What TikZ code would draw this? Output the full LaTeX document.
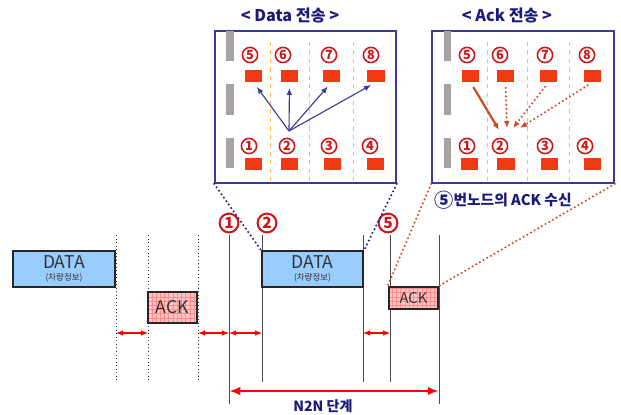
\documentclass[tikz,border=0pt]{standalone}
\usepackage{fontspec}
\setmainfont{Noto Sans CJK KR}
\usetikzlibrary{arrows.meta, patterns, positioning}
\definecolor{navy}{HTML}{1C1C78}
\definecolor{panelblue}{HTML}{3A3A9C}
\definecolor{arrowblue}{HTML}{3C3C9A}
\definecolor{numred}{HTML}{D01414}
\definecolor{rectred}{HTML}{F23A12}
\definecolor{barg}{HTML}{A9A2A2}
\definecolor{dashy}{HTML}{FFBE48}
\definecolor{datablue}{HTML}{99CCFF}
\definecolor{ackpink}{HTML}{FFC4C4}
\definecolor{ackred}{HTML}{D0461A}

\begin{document}
\begin{tikzpicture}[x=0.025cm, y=-0.025cm, >={Latex[length=5pt,width=4pt]},
	num/.style={circle, draw=numred, line width=1.1pt, text=numred, minimum size=0.38cm, inner sep=0pt,
		font=\bfseries\fontsize{9}{9}\selectfont},
	tnum/.style={num, line width=1.4pt, minimum size=0.47cm, font=\bfseries\fontsize{11}{11}\selectfont},
	sta/.style={fill=rectred, minimum width=0.425cm, minimum height=0.3cm, inner sep=0pt},
	bar/.style={fill=barg, minimum width=0.175cm, minimum height=0.75cm, inner sep=0pt},
	panel/.style={draw=panelblue, line width=1.2pt, minimum height=3.8cm, inner sep=0pt},
	lane/.style={dashed, dashy, line width=0.7pt},
	pkt/.style={draw=black!85, line width=1.8pt, inner sep=0pt, text=black!80, align=center},
	tick/.style={black!70, line width=0.6pt},
	gap/.style={<->, red, line width=0.8pt},
	dots/.style={dash pattern=on 0pt off 3pt, line cap=round, line width=1.6pt}]
	\useasboundingbox (0,0) rectangle (621,415);
	%%% Pannello Data
	\node[panel, minimum width=4.525cm] (dpanel) at (305.5,107) {};
	\node[text=navy, font=\bfseries\fontsize{11.5}{12}\selectfont] (dtitle) at (290,15) {< Data 전송 >};
	\foreach \y/\i in {46/1, 99.5/2, 153/3}
	\node[bar] (db\i) at (230,\y) {};
	\foreach \x in {270, 309, 353}
	\draw[lane] (\x,42) -- (\x,182);
	\foreach \n/\x/\r in {5/250/253.5, 6/283/289.5, 7/329/331.5, 8/371/376, 1/249/253.5, 2/287/289.5, 3/329/332.5, 4/370/375.5}
	{
		\pgfmathsetmacro{\ny}{\n>4 ? 55 : 146}
		\pgfmathsetmacro{\ry}{\n>4 ? 76 : 163.5}
		\node[num] (dn\n) at (\x,\ny) {\n};
		\node[sta] (d\n) at (\r,\ry) {};
	}
	\coordinate (dsrc) at (289,131);
	\foreach \n in {5,...,8}
	\draw[->, arrowblue, line width=0.8pt, shorten >=4pt] (dsrc) -- (d\n.south);
	
	%%% Pannello Ack
	\node[panel, minimum width=4.55cm] (apanel) at (523,107) {};
	\node[text=navy, font=\bfseries\fontsize{11.5}{12}\selectfont] (atitle) at (507,15) {< Ack 전송 >};
	\foreach \y/\i in {46/1, 99.5/2, 153/3}
	\node[bar] (ab\i) at (447,\y) {};
	\foreach \x in {487, 527, 569}
	\draw[lane] (\x,42) -- (\x,182);
	\foreach \n/\x/\r in {5/467/470.5, 6/500/505.5, 7/545/548.5, 8/587/592.5, 1/467/469.5, 2/500/506, 3/545/549.5, 4/585/592.5}
	{
		\pgfmathsetmacro{\ny}{\n>4 ? 55 : 146}
		\pgfmathsetmacro{\ry}{\n>4 ? 76 : 163.5}
		\node[num] (an\n) at (\x,\ny) {\n};
		\node[sta] (a\n) at (\r,\ry) {};
	}
	\coordinate (k5) at (499,130);
	\coordinate (k6) at (507,128);
	\coordinate (k7) at (513,128);
	\coordinate (k8) at (520,128);
	\draw[->, ackred, line width=1.5pt, shorten <=4pt] (a5.south) -- (k5);
	\foreach \n in {6,7,8}
	\draw[->, ackred, dots, shorten <=4pt] (a\n.south) -- (k\n);
	\node[text=navy, font=\bfseries\fontsize{10.5}{11}\selectfont] (recv) at (503,200)
	{\raisebox{-0.12em}{\scalebox{1.3}{⑤}}번노드의 ACK 수신};
	
	%%% Linea temporale
	\foreach \x in {116, 148, 198}
	\draw[black!80, dotted, line width=0.5pt] (\x,235) -- (\x,382);
	\foreach \x in {262, 363, 390}
	\draw[tick] (\x,235) -- (\x,382);
	\foreach \x in {229, 439}
	\draw[tick] (\x,235) -- (\x,404);
	\node[tnum] (t1) at (229,223) {1};
	\node[tnum] (t2) at (267,223) {2};
	\node[tnum] (t5) at (388,223) {5};
	%%% Pacchetti
	\node[pkt, fill=datablue, minimum width=2.55cm, minimum height=0.9cm] (data1) at (64,269)
	{\fontsize{12.5}{13}\selectfont DATA\\[-3pt]\fontsize{6}{6}\selectfont (차량정보)};
	\node[pkt, fill=datablue, minimum width=2.525cm, minimum height=0.9cm] (data2) at (312.5,269)
	{\fontsize{12.5}{13}\selectfont DATA\\[-3pt]\fontsize{6}{6}\selectfont (차량정보)};
	\node[pkt, preaction={fill=ackpink}, pattern=grid, pattern color=red!45, minimum width=1.225cm, minimum height=0.775cm,
	font=\fontsize{12.5}{13}\selectfont] (ack1) at (172.5,307.5) {ACK};
	\node[pkt, preaction={fill=ackpink}, pattern=grid, pattern color=red!45, minimum width=1.225cm, minimum height=0.55cm,
	font=\fontsize{10.5}{11}\selectfont] (ack2) at (413.5,298) {ACK};
	%%% Intervalli
	\draw[gap] (116,333) -- (148,333);
	\draw[gap] (198,333) -- (229,333);
	\draw[gap] (229,333) -- (262,333);
	\draw[gap] (363,333) -- (390,333);
	\draw[{Latex[length=8pt,width=6pt]}-{Latex[length=8pt,width=6pt]}, red, line width=2pt] (229,391) -- (439,391);
	\node[text=navy, font=\bfseries\fontsize{10}{11}\selectfont] (n2n) at (323,406) {N2N 단계};
	%%% Ingrandimenti
	\draw[navy, dots] (dpanel.south west) -- (data2.north west);
	\draw[navy, dots] (dpanel.south east) -- (data2.north east);
	\draw[ackred, dots] (apanel.south west) -- (ack2.north west);
	\draw[ackred, dots] (apanel.south east) -- (ack2.north east);
\end{tikzpicture}
\end{document}
